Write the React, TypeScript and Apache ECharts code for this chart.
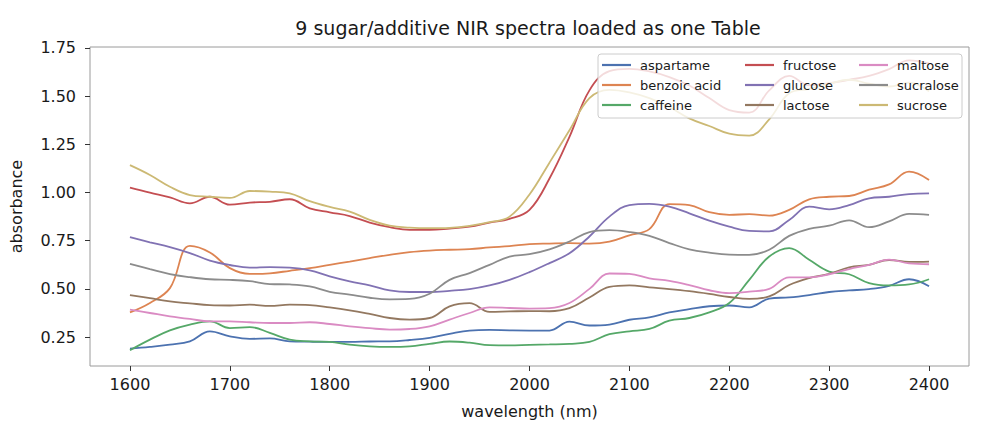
import React, { useEffect, useRef } from "react";
import * as echarts from "echarts";

// Wavelength grid (nm) shared by every spectrum
const wavelengths = [
  1600, 1620, 1640, 1660, 1680, 1700, 1720, 1740, 1760, 1780, 1800, 1820, 1840, 1860,
  1880, 1900, 1920, 1940, 1960, 1980, 2000, 2020, 2040, 2060, 2080, 2100, 2120, 2140,
  2160, 2180, 2200, 2220, 2240, 2260, 2280, 2300, 2320, 2340, 2360, 2380, 2400,
];

const aspartame = [
  0.190, 0.199, 0.211, 0.228, 0.280, 0.254, 0.241, 0.243, 0.228, 0.226, 0.225, 0.225, 0.227, 0.228,
  0.235, 0.246, 0.267, 0.284, 0.287, 0.285, 0.284, 0.284, 0.330, 0.310, 0.315, 0.340, 0.352, 0.378,
  0.395, 0.410, 0.414, 0.404, 0.450, 0.456, 0.468, 0.484, 0.492, 0.499, 0.516, 0.550, 0.514,
];
const benzoicAcid = [
  0.378, 0.427, 0.504, 0.723, 0.689, 0.608, 0.578, 0.581, 0.594, 0.608, 0.625, 0.642, 0.660, 0.677,
  0.691, 0.699, 0.703, 0.706, 0.715, 0.722, 0.732, 0.735, 0.737, 0.735, 0.745, 0.778, 0.810, 0.940,
  0.935, 0.898, 0.884, 0.888, 0.880, 0.910, 0.965, 0.978, 0.982, 1.015, 1.042, 1.108, 1.065,
];
const caffeine = [
  0.182, 0.237, 0.285, 0.315, 0.332, 0.297, 0.302, 0.272, 0.237, 0.228, 0.225, 0.211, 0.202, 0.199,
  0.202, 0.215, 0.227, 0.221, 0.208, 0.207, 0.210, 0.212, 0.215, 0.225, 0.265, 0.280, 0.292, 0.335,
  0.349, 0.378, 0.427, 0.547, 0.668, 0.712, 0.651, 0.590, 0.576, 0.530, 0.518, 0.523, 0.550,
];
const fructose = [
  1.025, 0.999, 0.975, 0.944, 0.978, 0.937, 0.948, 0.952, 0.965, 0.918, 0.897, 0.878, 0.844, 0.820,
  0.806, 0.806, 0.813, 0.823, 0.844, 0.863, 0.910, 1.073, 1.289, 1.530, 1.630, 1.642, 1.628, 1.599,
  1.555, 1.490, 1.428, 1.415, 1.530, 1.605, 1.556, 1.568, 1.585, 1.605, 1.640, 1.686, 1.670,
];
const glucose = [
  0.768, 0.742, 0.717, 0.686, 0.647, 0.624, 0.610, 0.613, 0.610, 0.596, 0.565, 0.539, 0.518, 0.492,
  0.484, 0.484, 0.490, 0.499, 0.518, 0.547, 0.587, 0.634, 0.685, 0.772, 0.875, 0.935, 0.941, 0.927,
  0.892, 0.854, 0.823, 0.801, 0.798, 0.858, 0.927, 0.913, 0.935, 0.970, 0.978, 0.992, 0.996,
];
const lactose = [
  0.468, 0.452, 0.435, 0.425, 0.416, 0.414, 0.418, 0.412, 0.418, 0.416, 0.404, 0.389, 0.370, 0.349,
  0.341, 0.349, 0.409, 0.426, 0.381, 0.383, 0.385, 0.384, 0.400, 0.455, 0.510, 0.518, 0.508, 0.499,
  0.488, 0.474, 0.458, 0.448, 0.461, 0.520, 0.556, 0.578, 0.612, 0.625, 0.650, 0.640, 0.642,
];
const maltose = [
  0.392, 0.375, 0.358, 0.344, 0.332, 0.332, 0.327, 0.323, 0.323, 0.327, 0.318, 0.306, 0.296, 0.289,
  0.292, 0.306, 0.341, 0.375, 0.404, 0.401, 0.398, 0.400, 0.427, 0.500, 0.580, 0.578, 0.555, 0.542,
  0.520, 0.493, 0.478, 0.486, 0.500, 0.560, 0.560, 0.576, 0.603, 0.625, 0.652, 0.632, 0.628,
];
const sucralose = [
  0.630, 0.603, 0.577, 0.561, 0.550, 0.547, 0.540, 0.525, 0.523, 0.513, 0.485, 0.470, 0.454, 0.446,
  0.448, 0.475, 0.547, 0.582, 0.625, 0.668, 0.680, 0.705, 0.746, 0.795, 0.805, 0.795, 0.775, 0.738,
  0.705, 0.688, 0.678, 0.677, 0.703, 0.775, 0.812, 0.828, 0.856, 0.820, 0.850, 0.889, 0.884,
];
const sucrose = [
  1.142, 1.091, 1.030, 0.987, 0.978, 0.972, 1.008, 1.005, 0.996, 0.955, 0.925, 0.901, 0.858, 0.828,
  0.818, 0.815, 0.817, 0.827, 0.846, 0.875, 0.990, 1.155, 1.323, 1.490, 1.533, 1.520, 1.490, 1.444,
  1.385, 1.345, 1.305, 1.295, 1.380, 1.515, 1.538, 1.565, 1.585, 1.565, 1.550, 1.570, 1.525,
];

const seriesNames = [
  "aspartame", "benzoic acid", "caffeine", "fructose", "glucose",
  "lactose", "maltose", "sucralose", "sucrose",
];
const seriesValues = [
  aspartame, benzoicAcid, caffeine, fructose, glucose, lactose, maltose, sucralose, sucrose,
];
const seriesColors = [
  "#4C72B0", "#DD8452", "#55A868", "#C44E52", "#8172B3",
  "#937860", "#DA8BC3", "#8C8C8C", "#CCB974",
];

const xTicks = [1600, 1700, 1800, 1900, 2000, 2100, 2200, 2300, 2400];
const yTicks = [0.25, 0.5, 0.75, 1.0, 1.25, 1.5, 1.75];

const FONT = "DejaVu Sans";
const TEXT = "#1a1a1a";

// Legend frame and column layout (three columns, filled top to bottom)
const LEGEND_BOX = { x: 598, y: 54, width: 364, height: 64 };
const LEGEND_COL_X = [602, 745, 859];
const LEGEND_ROW_Y0 = 65;
const LEGEND_ROW_STEP = 20;
const LEGEND_HANDLE = 29;

function buildLegend() {
  const items: any[] = [
    {
      type: "rect",
      z: 50,
      shape: { ...LEGEND_BOX, r: 3 },
      style: { fill: "rgba(255,255,255,0.8)", stroke: "#cccccc", lineWidth: 1 },
    },
  ];
  seriesNames.forEach((name, i) => {
    const col = Math.floor(i / 3);
    const row = i % 3;
    const x = LEGEND_COL_X[col];
    const y = LEGEND_ROW_Y0 + row * LEGEND_ROW_STEP;
    items.push({
      type: "line",
      z: 60,
      shape: { x1: x, y1: y, x2: x + LEGEND_HANDLE, y2: y },
      style: { stroke: seriesColors[i], lineWidth: 2.2 },
    });
    items.push({
      type: "text",
      z: 60,
      x: x + LEGEND_HANDLE + 9,
      y,
      style: {
        text: name,
        fontFamily: FONT,
        fontSize: 13,
        fill: TEXT,
        textAlign: "left",
        textVerticalAlign: "middle",
      },
    });
  });
  return items;
}

export default function App() {
  const ref = useRef<HTMLDivElement>(null);

  useEffect(() => {
    if (!ref.current) return;
    const chart = echarts.init(ref.current, null, { renderer: "svg" });

    const series = seriesNames.map((name, i) => ({
      name,
      type: "line",
      data: wavelengths.map((w, j) => [w, seriesValues[i][j]]),
      symbol: "none",
      smooth: 0.4,
      lineStyle: { width: 1.8, color: seriesColors[i] },
      itemStyle: { color: seriesColors[i] },
      z: 2 + i,
    }));

    const option = {
      animation: false,
      backgroundColor: "#ffffff",
      grid: {
        left: 87,
        right: 19,
        top: 47,
        bottom: 76,
        show: true,
        borderColor: "#9a9a9a",
        borderWidth: 1,
        backgroundColor: "transparent",
      },
      xAxis: {
        type: "value",
        min: 1560,
        max: 2440,
        name: "wavelength (nm)",
        nameLocation: "middle",
        nameGap: 37,
        nameTextStyle: { fontFamily: FONT, fontSize: 16, color: TEXT },
        splitLine: { show: false },
        axisLine: { show: false },
        axisTick: {
          show: true,
          length: 5,
          lineStyle: { color: "#333" },
          customValues: xTicks,
        },
        axisLabel: {
          fontFamily: FONT,
          fontSize: 16,
          color: TEXT,
          margin: 10,
          customValues: xTicks,
          formatter: (v: number) => String(v),
        },
      },
      yAxis: {
        type: "value",
        min: 0.1,
        max: 1.755,
        name: "absorbance",
        nameLocation: "middle",
        nameGap: 66,
        nameRotate: 90,
        nameTextStyle: { fontFamily: FONT, fontSize: 16, color: TEXT },
        splitLine: { show: false },
        axisLine: { show: false },
        axisTick: {
          show: true,
          length: 5,
          lineStyle: { color: "#333" },
          customValues: yTicks,
        },
        axisLabel: {
          fontFamily: FONT,
          fontSize: 16,
          color: TEXT,
          margin: 14,
          customValues: yTicks,
          formatter: (v: number) => v.toFixed(2),
        },
      },
      graphic: [
        {
          type: "text",
          x: 528,
          y: 28,
          z: 100,
          style: {
            text: "9 sugar/additive NIR spectra loaded as one Table",
            fontFamily: FONT,
            fontSize: 19,
            fill: TEXT,
            textAlign: "center",
            textVerticalAlign: "middle",
          },
        },
        ...buildLegend(),
      ],
      series,
    };

    chart.setOption(option as any);
    return () => chart.dispose();
  }, []);

  return (
    <div
      ref={ref}
      style={{ position: "absolute", left: 0, top: 0, width: 988, height: 442 }}
    />
  );
}
